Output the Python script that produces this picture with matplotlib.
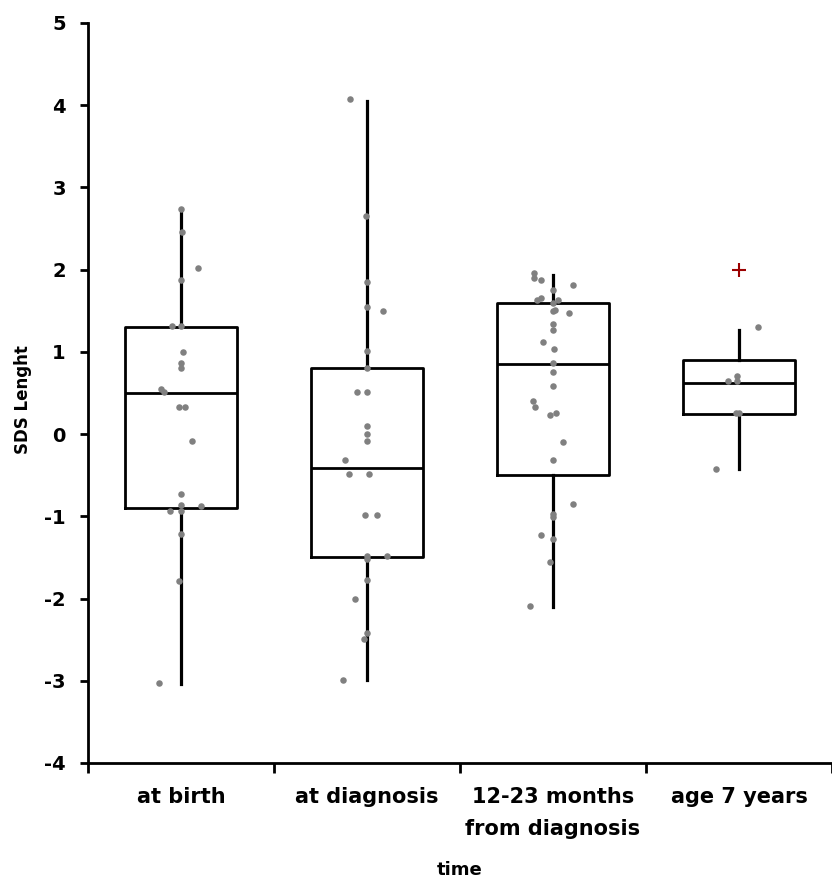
import numpy as np
import matplotlib
matplotlib.use('Agg')
import matplotlib.pyplot as plt

plt.rcParams['font.family'] = ['DejaVu Sans']
plt.rcParams['font.weight'] = 'bold'

# categorias do eixo x
categorias = ['at birth', 'at diagnosis', '12-23 months\nfrom diagnosis', 'age 7 years']

# estatisticas das caixas
medianas = [0.50, -0.41, 0.85, 0.62]
q1 = [-0.90, -1.50, -0.50, 0.25]
q3 = [1.30, 0.80, 1.59, 0.90]
bigode_inf = [-3.04, -2.99, -2.10, -0.42]
bigode_sup = [2.73, 4.05, 1.93, 1.27]
outliers = [[], [], [], [2.0]]

# pontos individuais (valor, deslocamento horizontal)
valores_nascimento = [2.74, 2.46, 2.02, 1.88, 1.32, 1.32, 1.00, 0.86, 0.80, 0.55, 0.51,
                      0.33, 0.33, -0.08, -0.73, -0.93, -0.86, -0.93, -0.87, -1.22, -1.79, -3.03]
desloc_nascimento = [0, 0.005, 0.09, 0, -0.05, 0, 0.01, 0, 0, -0.11, -0.09,
                     -0.01, 0.02, 0.06, 0, -0.06, 0, 0, 0.11, 0, -0.01, -0.12]

valores_diagnostico = [4.07, 2.65, 1.85, 1.54, 1.50, 1.01, 0.80, 0.51, 0.51, 0.10, 0.00, -0.08,
                       -0.32, -0.49, -0.49, -0.98, -0.98, -1.48, -1.52, -1.48, -1.77, -2.00,
                       -2.42, -2.49, -2.99]
desloc_diagnostico = [-0.09, -0.005, 0, 0, 0.085, 0, 0, -0.055, 0, 0, 0, 0,
                      -0.12, -0.095, 0.01, -0.01, 0.055, 0, 0, 0.11, 0, -0.065,
                      0, -0.015, -0.13]

valores_12_23 = [1.96, 1.90, 1.88, 1.81, 1.75, 1.63, 1.65, 1.63, 1.59, 1.50, 1.51, 1.47,
                 1.34, 1.27, 1.12, 1.03, 0.86, 0.75, 0.59, 0.40, 0.33, 0.23, 0.26, -0.10,
                 -0.32, -0.85, -0.97, -1.01, -1.23, -1.28, -1.55, -2.09]
desloc_12_23 = [-0.10, -0.10, -0.065, 0.105, 0, -0.085, -0.065, 0.025, 0, 0, 0.01, 0.085,
                0, 0, -0.055, 0.005, 0, 0, 0, -0.11, -0.095, -0.015, 0.015, 0.055,
                0, 0.105, 0, 0, -0.065, 0, -0.015, -0.125]

valores_7anos = [1.30, 0.64, 0.71, 0.64, 0.26, 0.26, -0.42]
desloc_7anos = [0.10, -0.06, -0.01, -0.01, -0.015, 0, -0.125]

pontos = [(valores_nascimento, desloc_nascimento),
          (valores_diagnostico, desloc_diagnostico),
          (valores_12_23, desloc_12_23),
          (valores_7anos, desloc_7anos)]

fig = plt.figure(figsize=(8.32, 8.83), dpi=100)
ax = fig.add_axes([88 / 832, 120 / 883, 744 / 832, 740 / 883])

stats = []
for i in range(4):
    stats.append(dict(med=medianas[i], q1=q1[i], q3=q3[i],
                      whislo=bigode_inf[i], whishi=bigode_sup[i], fliers=outliers[i]))

estilo = dict(color='black', linewidth=2)
ax.bxp(stats, positions=[1, 2, 3, 4], widths=0.6, showcaps=False,
       boxprops=estilo, whiskerprops=dict(color='black', linewidth=2.3), medianprops=estilo,
       flierprops=dict(marker='+', markeredgecolor='#9b0000', markersize=10,
                       markeredgewidth=1.5, linestyle='none'))

for i, (vals, desl) in enumerate(pontos):
    xs = np.array(desl) + i + 1
    ax.scatter(xs, vals, s=22, color='#808080', zorder=5, linewidths=0)

ax.set_xlim(0.5, 4.5)
ax.set_ylim(-4, 5)
ax.set_yticks(range(-4, 6))
ax.set_yticklabels([str(v) for v in range(-4, 6)], fontsize=14, fontweight='bold')

ax.set_xticks([0.5, 1.5, 2.5, 3.5, 4.5])
ax.set_xticklabels([])
ax.set_xticks([1, 2, 3, 4], minor=True)
ax.set_xticklabels(categorias, minor=True, fontsize=15, fontweight='bold', linespacing=1.75)

ax.tick_params(axis='y', direction='out', length=6, width=2, pad=10)
ax.tick_params(axis='x', which='major', direction='out', length=7, width=2)
ax.tick_params(axis='x', which='minor', length=0, pad=17)

for lado in ['top', 'right']:
    ax.spines[lado].set_visible(False)
for lado in ['left', 'bottom']:
    ax.spines[lado].set_linewidth(2)

fig.text(23 / 832, 1 - 400 / 883, 'SDS Lenght', rotation=90, ha='center', va='center',
         fontsize=12, fontweight='bold')
fig.text(460 / 832, 1 - 870 / 883, 'time', ha='center', va='center',
         fontsize=13, fontweight='bold')

fig.savefig('out.png', dpi=100)
